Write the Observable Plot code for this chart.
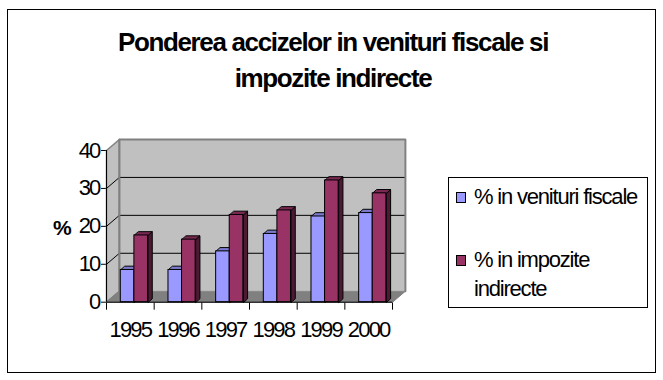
<!DOCTYPE html>
<html>
<head>
<meta charset="utf-8">
<script src="https://cdn.jsdelivr.net/npm/d3@7"></script>
<script src="https://cdn.jsdelivr.net/npm/@observablehq/plot@0.6"></script>
<style>
  html, body { margin: 0; padding: 0; background: #fff; }
  #chart { position: relative; width: 663px; height: 380px; overflow: hidden; font-family: Arial, "Liberation Sans", sans-serif; color: #000; }
  #border { position: absolute; left: 7px; top: 9px; width: 649px; height: 364px; box-sizing: border-box; border: 1px solid #000; }
  #title { position: absolute; left: 0; top: 24px; width: 666px; text-align: center; font-weight: bold; font-size: 26px; letter-spacing: -1.35px; line-height: 36px; }
  #ylabel { position: absolute; left: 53px; top: 216px; font-size: 21px; font-weight: bold; letter-spacing: -1px; }
  #plot { position: absolute; left: 0; top: 110px; }
  #legend { position: absolute; left: 448px; top: 177px; width: 200px; height: 131px; box-sizing: border-box; border: 1px solid #000; font-size: 22px; letter-spacing: -1.2px; }
  .item { position: absolute; left: 25px; line-height: 29px; }
  .sw { position: absolute; left: 7px; width: 10px; height: 11px; border: 1px solid #000; box-sizing: border-box; }
</style>
</head>
<body>
<div id="chart">
  <div id="border"></div>
  <div id="title">Ponderea accizelor in venituri fiscale si<br>impozite indirecte</div>
  <div id="ylabel">%</div>
  <div id="plot"></div>
  <div id="legend"></div>
</div>
<script>
// ---- data ----
const years = ["1995", "1996", "1997", "1998", "1999", "2000"];
const venituriFiscale = [8.5, 8.5, 13.4, 18.0, 22.6, 23.5];
const impoziteIndirecte = [17.6, 16.5, 23.0, 24.2, 32.1, 28.7];
const seriesNames = ["% in venituri fiscale", "% in impozite indirecte"];
const yTicks = [0, 10, 20, 30, 40];
const gridValues = [10, 20, 30];

// ---- styling / 3D geometry (in scale units) ----
const colors = [
  {front: "#9999ff", top: "#7a7acc", side: "#4d4d80"},
  {front: "#993366", top: "#7a2952", side: "#4d1a33"}
];
const WX = 0.27, WY = 2.9;   // wall depth offset
const BX = 0.09, BY = 1.0;   // bar depth offset
const slots = [[0.30, 0.585], [0.585, 0.87]];
const yMax = 40;
const n = years.length;

// build bars
const series = [venituriFiscale, impoziteIndirecte];
const bars = [];
series.forEach((vals, s) => vals.forEach((v, i) => {
  bars.push({s, i, v, x1: i + slots[s][0], x2: i + slots[s][1]});
}));

const sidePolys = [], topPolys = [];
bars.forEach((b, k) => {
  const c = colors[b.s];
  const side = [[b.x2, 0], [b.x2, b.v], [b.x2 + BX, b.v + BY], [b.x2 + BX, BY]];
  const top = [[b.x1, b.v], [b.x2, b.v], [b.x2 + BX, b.v + BY], [b.x1 + BX, b.v + BY]];
  side.forEach(([x, y]) => sidePolys.push({id: "s" + k, order: k, x, y}));
  top.forEach(([x, y]) => topPolys.push({id: "t" + k, order: k, x, y}));
});

const sideWall = [[0, 0], [0, yMax], [WX, yMax + WY], [WX, WY]].map(([x, y]) => ({x, y}));
const floor = [[0, 0], [n, 0], [n + WX, WY], [WX, WY]].map(([x, y]) => ({x, y}));

const marks = [
  // back wall
  Plot.rect([0], {x1: WX, x2: n + WX, y1: WY, y2: yMax + WY, fill: "#c0c0c0"}),
  // side wall
  Plot.line(sideWall, {x: "x", y: "y", curve: "linear-closed", fill: "#c0c0c0", stroke: "#808080", strokeWidth: 1.5}),
  // floor
  Plot.line(floor, {x: "x", y: "y", curve: "linear-closed", fill: "#808080", stroke: "#808080", strokeWidth: 1}),
  // gridlines on back wall and side wall
  Plot.link(gridValues, {x1: WX, x2: n + WX, y1: d => d + WY, y2: d => d + WY, stroke: "#000", strokeWidth: 1}),
  Plot.link(gridValues, {x1: 0, x2: WX, y1: d => d, y2: d => d + WY, stroke: "#000", strokeWidth: 1}),
  // back wall border (top, right)
  Plot.line([{x: WX, y: WY}, {x: WX, y: yMax + WY}, {x: n + WX, y: yMax + WY}, {x: n + WX, y: WY}], {x: "x", y: "y", stroke: "#808080", strokeWidth: 2}),
];

// bars: per series so that the right bar overlaps the left one's side
[0, 1].forEach(s => {
  const bs = bars.map((b, k) => ({...b, k})).filter(b => b.s === s);
  const ks = new Set(bs.map(b => b.k));
  marks.push(
    Plot.line(sidePolys.filter(p => ks.has(p.order)), {x: "x", y: "y", z: "id", curve: "linear-closed", fill: colors[s].side, stroke: "#000", strokeWidth: 1}),
    Plot.line(topPolys.filter(p => ks.has(p.order)), {x: "x", y: "y", z: "id", curve: "linear-closed", fill: colors[s].top, stroke: "#000", strokeWidth: 1}),
    Plot.rect(bs, {x1: "x1", x2: "x2", y1: 0, y2: "v", fill: colors[s].front, stroke: "#000", strokeWidth: 1})
  );
});

marks.push(
  // axes lines
  Plot.ruleX([0], {y1: 0, y2: yMax, stroke: "#000", strokeWidth: 1}),
  Plot.ruleY([0], {x1: 0, x2: n, stroke: "#000", strokeWidth: 1}),
  // category labels
  Plot.text(years, {x: (d, i) => i + 0.5, y: 0, dy: 28, text: d => d, fontSize: 22, fill: "#000"})
);

const pxPerUnitX = 47.67;
const width = 440;
const marginLeft = 106;
const marginRight = width - marginLeft - (n + WX) * pxPerUnitX;

const chart = Plot.plot({
  width,
  height: 260,
  marginLeft,
  marginRight,
  marginTop: 29,
  marginBottom: 68.3,
  style: {fontFamily: 'Arial, "Liberation Sans", sans-serif', fontSize: "22px", letterSpacing: "-1.8px", color: "#000", background: "transparent", overflow: "visible"},
  x: {domain: [0, n + WX], ticks: d3.range(0, n + 1), tickFormat: () => "", tickSize: 8, label: null},
  y: {domain: [0, yMax + WY], ticks: yTicks, tickSize: 5, tickPadding: 2, label: null},
  marks
});
document.getElementById("plot").appendChild(chart);

// legend
const legend = document.getElementById("legend");
const legendTops = [4, 67];
seriesNames.forEach((name, s) => {
  const sw = document.createElement("div");
  sw.className = "sw";
  sw.style.background = colors[s].front;
  sw.style.top = (legendTops[s] + 10) + "px";
  legend.appendChild(sw);
  const it = document.createElement("div");
  it.className = "item";
  it.style.top = legendTops[s] + "px";
  if (s === 1) {
    it.innerHTML = "% in impozite<br>indirecte";
  } else {
    it.textContent = name;
  }
  legend.appendChild(it);
});
</script>
</body>
</html>
